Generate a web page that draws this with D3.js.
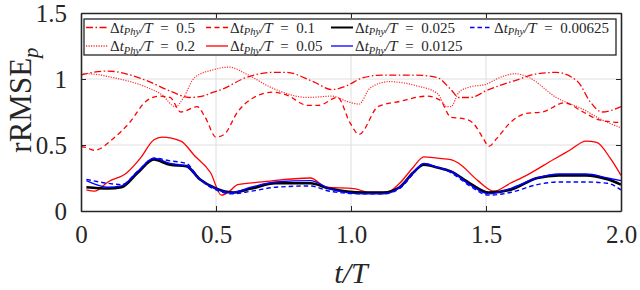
<!DOCTYPE html>
<html>
<head>
<meta charset="utf-8">
<script src="https://cdn.jsdelivr.net/npm/d3@7"></script>
<style>
body { margin: 0; background: #fff; }
text { font-family: "Liberation Serif", "Times New Roman", serif; fill: #262626; }
</style>
</head>
<body>
<svg id="chart" width="640" height="290"></svg>
<script>
// values, t/T and rRMSE_p
var t_05 = [0, 0.02, 0.1, 0.24, 0.34, 0.40, 0.45, 0.49, 0.52, 0.61, 0.71, 0.76, 0.86, 0.93, 0.985, 1.045, 1.12, 1.24, 1.32, 1.37, 1.40, 1.44, 1.51, 1.61, 1.69, 1.76, 1.84, 1.885, 1.93, 2.0];
var v_05 = [1.03, 1.04, 1.06, 0.99, 0.90, 0.86, 0.87, 0.90, 0.92, 1.01, 1.05, 1.05, 0.98, 0.92, 0.95, 1.01, 1.03, 1.03, 1.01, 0.92, 0.86, 0.86, 0.92, 0.99, 1.04, 1.05, 0.98, 0.83, 0.75, 0.79];

var t_02 = [0, 0.02, 0.12, 0.24, 0.30, 0.35, 0.38, 0.42, 0.49, 0.55, 0.61, 0.71, 0.84, 0.93, 0.985, 1.03, 1.07, 1.14, 1.24, 1.32, 1.355, 1.37, 1.40, 1.44, 1.50, 1.55, 1.61, 1.66, 1.76, 1.86, 1.93, 2.0];
var v_02 = [1.04, 1.04, 1.01, 0.94, 0.88, 0.79, 0.86, 1.01, 1.07, 1.09, 1.04, 0.93, 0.86, 0.87, 0.83, 0.81, 0.93, 0.98, 0.95, 0.89, 0.79, 0.79, 0.90, 0.94, 0.96, 1.01, 1.04, 1.01, 0.86, 0.77, 0.69, 0.63];

var t_01 = [0, 0.02, 0.05, 0.12, 0.18, 0.24, 0.29, 0.33, 0.37, 0.43, 0.46, 0.50, 0.53, 0.58, 0.64, 0.71, 0.76, 0.84, 0.88, 0.95, 0.996, 1.03, 1.10, 1.18, 1.28, 1.33, 1.37, 1.415, 1.45, 1.49, 1.51, 1.54, 1.59, 1.65, 1.71, 1.79, 1.86, 1.92, 2.0];
var v_01 = [0.49, 0.48, 0.46, 0.55, 0.67, 0.83, 0.87, 0.86, 0.75, 0.79, 0.71, 0.56, 0.58, 0.75, 0.86, 0.90, 0.88, 0.80, 0.80, 0.86, 0.67, 0.58, 0.79, 0.83, 0.87, 0.84, 0.71, 0.70, 0.67, 0.55, 0.49, 0.55, 0.67, 0.74, 0.75, 0.82, 0.75, 0.69, 0.67];

var t_005 = [0.02, 0.05, 0.10, 0.17, 0.22, 0.27, 0.30, 0.37, 0.42, 0.48, 0.52, 0.55, 0.58, 0.67, 0.85, 0.91, 1.01, 1.07, 1.13, 1.18, 1.23, 1.27, 1.32, 1.37, 1.40, 1.47, 1.53, 1.59, 1.65, 1.75, 1.81, 1.87, 1.91, 1.96, 2.0];
var v_005 = [0.16, 0.15, 0.22, 0.29, 0.40, 0.54, 0.56, 0.53, 0.42, 0.29, 0.12, 0.15, 0.20, 0.22, 0.25, 0.18, 0.17, 0.14, 0.14, 0.21, 0.33, 0.41, 0.40, 0.39, 0.36, 0.23, 0.15, 0.21, 0.27, 0.39, 0.46, 0.53, 0.52, 0.40, 0.27];

// the three fine cases share the same sample times
var t_fine = [0.02, 0.10, 0.15, 0.21, 0.27, 0.33, 0.39, 0.44, 0.50, 0.56, 0.63, 0.72, 0.85, 0.92, 1.05, 1.12, 1.18, 1.23, 1.27, 1.32, 1.37, 1.44, 1.51, 1.59, 1.69, 1.77, 1.87, 1.95, 2.0];
var v_0025 = [0.18, 0.17, 0.18, 0.29, 0.39, 0.35, 0.34, 0.24, 0.17, 0.14, 0.17, 0.21, 0.21, 0.17, 0.14, 0.14, 0.18, 0.29, 0.35, 0.33, 0.30, 0.21, 0.14, 0.16, 0.25, 0.27, 0.27, 0.24, 0.20];
var v_00125 = [0.23, 0.18, 0.19, 0.30, 0.40, 0.36, 0.34, 0.24, 0.17, 0.14, 0.18, 0.22, 0.23, 0.17, 0.13, 0.13, 0.18, 0.29, 0.36, 0.33, 0.30, 0.20, 0.13, 0.17, 0.25, 0.28, 0.28, 0.25, 0.23];
var v_000625 = [0.24, 0.21, 0.20, 0.30, 0.40, 0.38, 0.36, 0.24, 0.16, 0.13, 0.15, 0.18, 0.19, 0.15, 0.13, 0.13, 0.17, 0.28, 0.36, 0.33, 0.29, 0.19, 0.12, 0.14, 0.20, 0.22, 0.22, 0.21, 0.16];

var xTicks = [0, 0.5, 1, 1.5, 2];
var xTickLabels = ["0", "0.5", "1.0", "1.5", "2.0"];
var yTicks = [0, 0.5, 1, 1.5];
var yTickLabels = ["0", "0.5", "1", "1.5"];

var series = [
    {dt: "0.5",     t: t_05,   v: v_05,     color: "#ff0000", dash: "7,2.5,1.5,2.5", w: 1.3},
    {dt: "0.2",     t: t_02,   v: v_02,     color: "#ff3030", dash: "1.2,1.3",       w: 1.2},
    {dt: "0.1",     t: t_01,   v: v_01,     color: "#ff0000", dash: "5,3.5",         w: 1.3},
    {dt: "0.05",    t: t_005,  v: v_005,    color: "#ff0000", dash: null,            w: 1.3},
    {dt: "0.025",   t: t_fine, v: v_0025,   color: "#000000", dash: null,            w: 2.6},
    {dt: "0.0125",  t: t_fine, v: v_00125,  color: "#0000ff", dash: null,            w: 1.4},
    {dt: "0.00625", t: t_fine, v: v_000625, color: "#0000ff", dash: "4.5,3",         w: 1.4}
];

// legend order is column-major, 2 rows
var legendOrder = ["0.5", "0.2", "0.1", "0.05", "0.025", "0.0125", "0.00625"];

var margin = {top: 13, right: 19, bottom: 79, left: 81},
    width = 640 - margin.left - margin.right,
    height = 290 - margin.top - margin.bottom;

var svg = d3.select("#chart");
var chart = svg.append("g")
    .attr("transform", "translate(" + margin.left + "," + margin.top + ")");

var xScale = d3.scaleLinear().domain([0, 2]).range([0, width]);
var yScale = d3.scaleLinear().domain([0, 1.5]).range([height, 0]);

// grid
chart.append("g")
    .selectAll("line.gx")
    .data(xTicks.slice(1, -1))
    .enter().append("line")
    .attr("x1", d => xScale(d)).attr("x2", d => xScale(d))
    .attr("y1", 0).attr("y2", height)
    .attr("stroke", "#dedede").attr("stroke-width", 1);
chart.append("g")
    .selectAll("line.gy")
    .data(yTicks.slice(1, -1))
    .enter().append("line")
    .attr("y1", d => yScale(d)).attr("y2", d => yScale(d))
    .attr("x1", 0).attr("x2", width)
    .attr("stroke", "#dedede").attr("stroke-width", 1);

// curves
var line = d3.line()
    .x(d => xScale(d[0]))
    .y(d => yScale(d[1]))
    .curve(d3.curveMonotoneX);

chart.append("g")
    .selectAll("path")
    .data(series)
    .enter().append("path")
    .attr("d", s => line(s.t.map((t, i) => [t, s.v[i]])))
    .attr("fill", "none")
    .attr("stroke", s => s.color)
    .attr("stroke-width", s => s.w)
    .attr("stroke-dasharray", s => s.dash)
    .attr("stroke-linejoin", "round");

// axes, ticks inward and mirrored
var tickFmtX = (d, i) => xTickLabels[i];
var tickFmtY = (d, i) => yTickLabels[i];

var xAxis = chart.append("g")
    .attr("transform", "translate(0," + height + ")")
    .call(d3.axisBottom(xScale).tickValues(xTicks).tickFormat(tickFmtX).tickSizeInner(-5).tickSizeOuter(0).tickPadding(14));
var xAxisTop = chart.append("g")
    .call(d3.axisTop(xScale).tickValues(xTicks).tickFormat("").tickSizeInner(-5).tickSizeOuter(0));
var yAxis = chart.append("g")
    .call(d3.axisLeft(yScale).tickValues(yTicks).tickFormat(tickFmtY).tickSizeInner(-5).tickSizeOuter(0).tickPadding(14));
var yAxisRight = chart.append("g")
    .attr("transform", "translate(" + width + ",0)")
    .call(d3.axisRight(yScale).tickValues(yTicks).tickFormat("").tickSizeInner(-5).tickSizeOuter(0));

chart.selectAll(".domain").attr("stroke", "#262626").attr("stroke-width", 1.6);
chart.selectAll(".tick line").attr("stroke", "#262626").attr("stroke-width", 1);
chart.selectAll(".tick text")
    .attr("fill", "#262626")
    .style("font-family", "'Liberation Serif', serif")
    .style("font-size", "25px");

// axis labels
chart.append("text")
    .attr("x", width / 2)
    .attr("y", height + 72)
    .attr("text-anchor", "middle")
    .style("font-size", "30px")
    .style("font-style", "italic")
    .text("t/T");

var yl = chart.append("text")
    .attr("transform", "translate(-50," + (height / 2 - 12) + ") rotate(-90)")
    .attr("text-anchor", "middle")
    .style("font-size", "31px");
yl.append("tspan").text("rRMSE");
yl.append("tspan").attr("dy", 7).style("font-size", "21px").style("font-style", "italic").text("p");

// legend
var legX = 84 - margin.left, legY = 19 - margin.top, legW = 532, legH = 36;
var legend = chart.append("g");
legend.append("rect")
    .attr("x", legX).attr("y", legY)
    .attr("width", legW).attr("height", legH)
    .attr("fill", "#fff")
    .attr("stroke", "#262626")
    .attr("stroke-width", 1.3);

var colX = [86, 206, 331, 470];
var rowY = [27.5, 46];

legendOrder.forEach((dt, i) => {
    var s = series.find(d => d.dt === dt);
    var cx = colX[Math.floor(i / 2)] - margin.left;
    var cy = rowY[i % 2] - margin.top;
    legend.append("line")
        .attr("x1", cx).attr("x2", cx + 22)
        .attr("y1", cy).attr("y2", cy)
        .attr("stroke", s.color)
        .attr("stroke-width", s.color === "#000000" ? 2 : 1.3)
        .attr("stroke-dasharray", s.dash);
    var tx = legend.append("text")
        .attr("x", cx + 24)
        .attr("y", cy + 5)
        .style("font-size", "15px");
    tx.append("tspan").text("Δ");
    tx.append("tspan").style("font-style", "italic").text("t");
    tx.append("tspan").attr("dy", 2.5).style("font-style", "italic").style("font-size", "10.5px").text("Phy");
    tx.append("tspan").attr("dy", -2.5).style("font-style", "italic").text("/T");
    tx.append("tspan").text("\u2002=\u2002" + dt);
});
</script>
</body>
</html>
